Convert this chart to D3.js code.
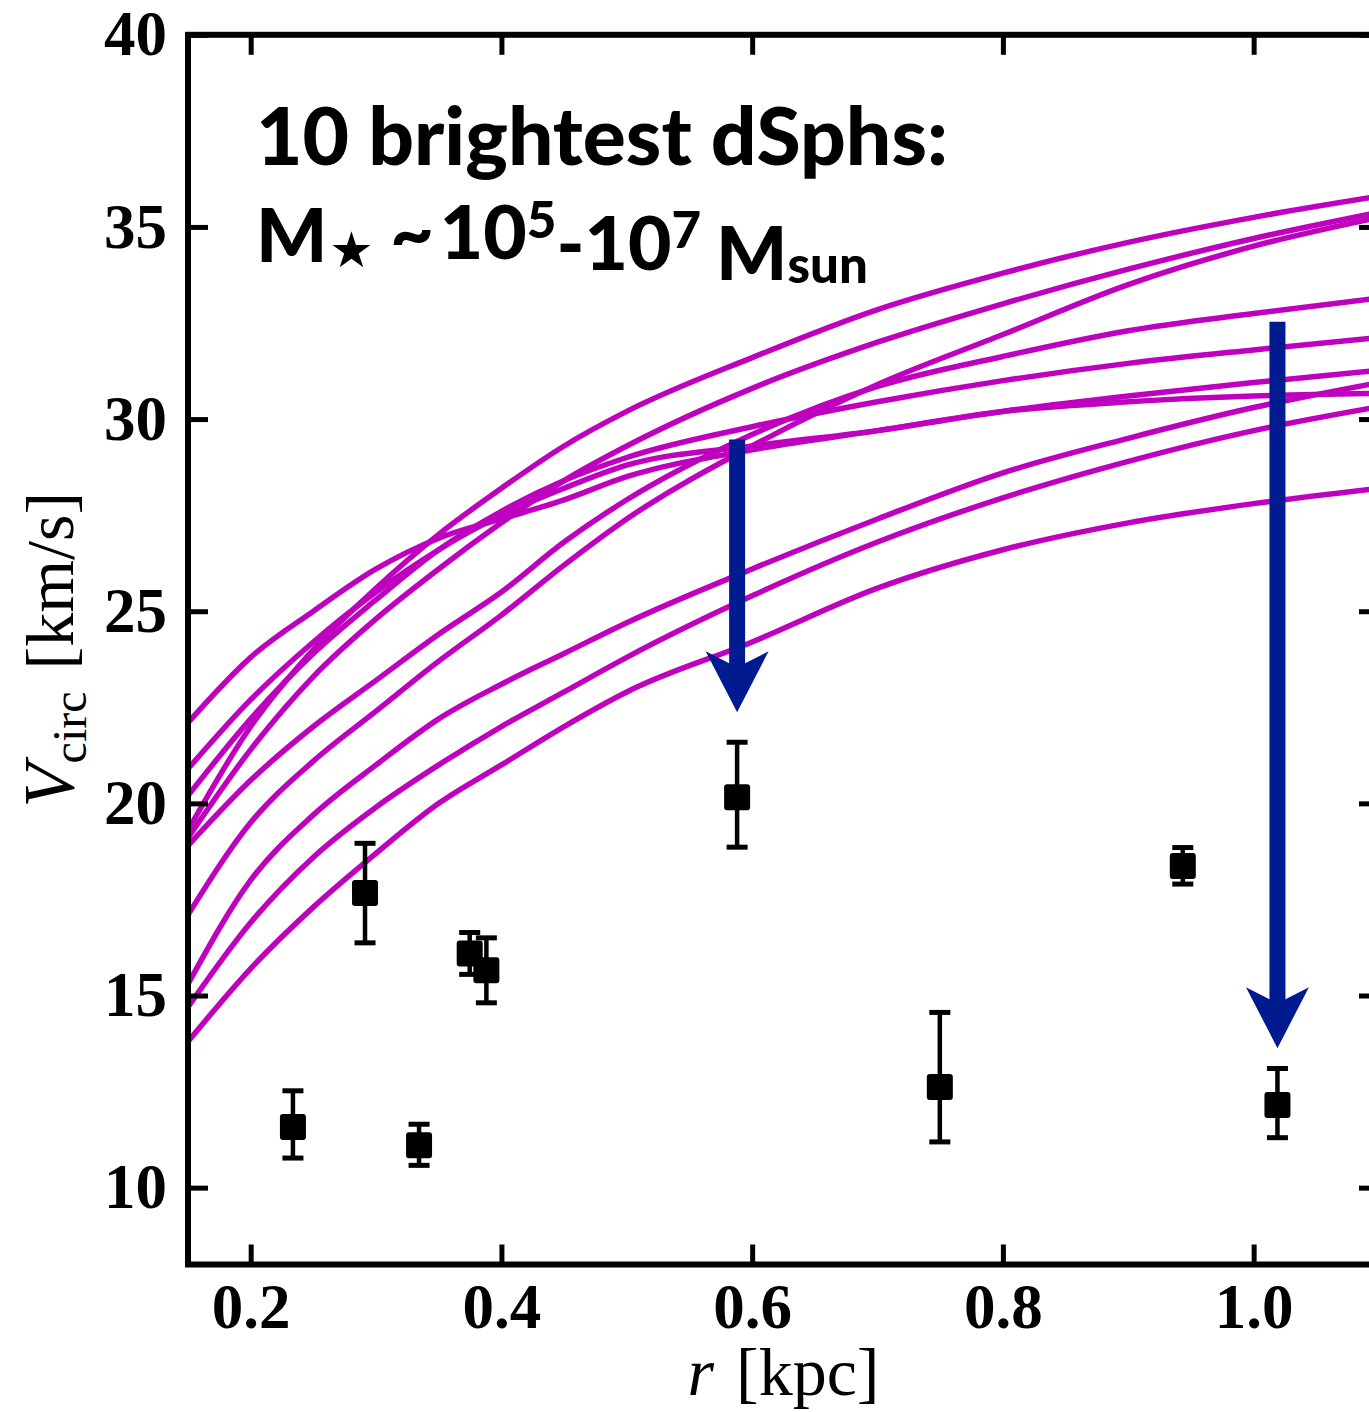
<!DOCTYPE html>
<html>
<head>
<meta charset="utf-8">
<script src="https://cdn.jsdelivr.net/npm/d3@7"></script>
<style>
  body { margin: 0; background: #ffffff; }
  svg { display: block; }
</style>
</head>
<body>
<svg id="chart" width="1369" height="1412"></svg>
<script>
// Radii (kpc) at which each simulated rotation curve is sampled
const radii = [0.15, 0.2, 0.25, 0.3, 0.35, 0.4, 0.45, 0.5, 0.6, 0.7, 0.8, 0.9, 1.0, 1.1];

// Circular velocity curves (km/s) of the ten most massive subhaloes
const haloA = [19.3, 22.0, 24.0, 25.6, 27.0, 28.2, 29.3, 30.2, 31.6, 32.85, 33.8, 34.6, 35.25, 35.8];
const haloB = [19.1, 21.4, 23.3, 24.8, 26.1, 27.3, 28.4, 29.3, 30.8, 32.0, 33.0, 33.9, 34.7, 35.38];
const haloC = [17.1, 19.5, 21.1, 22.4, 23.7, 24.9, 26.2, 27.4, 29.3, 30.9, 32.2, 33.5, 34.5, 35.25];
const haloD = [18.9, 20.6, 22.0, 23.2, 24.4, 25.5, 26.8, 27.9, 29.6, 30.85, 31.63, 32.3, 32.75, 33.15];
const haloE = [20.2, 22.2, 23.9, 25.3, 26.6, 27.6, 28.4, 29.0, 29.8, 30.45, 31.0, 31.45, 31.8, 32.12];
const haloF = [20.9, 22.7, 24.2, 25.5, 26.6, 27.5, 28.2, 28.8, 29.3, 29.7, 30.2, 30.6, 30.95, 31.27];
const haloG = [15.3, 18.0, 19.7, 21.0, 22.2, 23.1, 23.9, 24.7, 26.1, 27.4, 28.6, 29.5, 30.3, 30.95];
const haloH = [22.1, 23.8, 25.0, 26.1, 26.9, 27.4, 27.9, 28.5, 29.2, 29.7, 30.2, 30.45, 30.6, 30.67];
const haloI = [14.7, 16.9, 18.6, 19.9, 21.0, 22.0, 22.9, 23.8, 25.4, 26.8, 27.95, 28.9, 29.7, 30.32];
const haloJ = [13.8, 15.7, 17.3, 18.7, 20.0, 21.0, 22.0, 22.9, 24.2, 25.6, 26.6, 27.3, 27.8, 28.2];
const haloCurves = [haloA, haloB, haloC, haloD, haloE, haloF, haloG, haloH, haloI, haloJ];

// Measured dwarf spheroidals: half-light radius, V_circ and its error range
const dsphRadius = [0.2337, 0.2912, 0.3343, 0.3747, 0.388, 0.588, 0.7497, 0.9435, 1.019];
const dsphVcirc  = [11.58, 17.67, 11.10, 16.09, 15.66, 20.16, 12.62, 18.37, 12.15];
const dsphUpper  = [12.52, 18.96, 11.65, 16.64, 16.50, 21.59, 14.56, 18.85, 13.10];
const dsphLower  = [10.77, 16.37, 10.58, 15.55, 14.81, 18.86, 11.19, 17.90, 11.30];

// Arrows from a halo curve down to the observed value
const arrowRadius = [0.588, 1.019];
const arrowFrom   = [29.47, 32.53];
const arrowTo     = [22.37, 13.63];

// Axis ticks
const xTicks = [0.2, 0.4, 0.6, 0.8, 1.0];
const xTickLabels = ["0.2", "0.4", "0.6", "0.8", "1.0"];
const yTicks = [10, 15, 20, 25, 30, 35, 40];
const yTickLabels = ["10", "15", "20", "25", "30", "35", "40"];

const svg = d3.select("#chart");
svg.append("rect").attr("width", 1369).attr("height", 1412).attr("fill", "#ffffff");

const x = d3.scaleLinear().domain([0.15, 1.1]).range([188, 1379]);
const y = d3.scaleLinear().domain([8, 40]).range([1264.5, 34.8]);

const MAGENTA = "#bf00bf";
const NAVY = "#001b8f";

svg.append("defs").append("clipPath").attr("id", "plotArea")
  .append("rect")
  .attr("x", x(0.15)).attr("y", y(40))
  .attr("width", x(1.1) - x(0.15)).attr("height", y(8) - y(40));

const plot = svg.append("g").attr("clip-path", "url(#plotArea)");

// Rotation curves
const line = d3.line()
  .x((d, i) => x(radii[i]))
  .y(d => y(d))
  .curve(d3.curveMonotoneX);

plot.selectAll("path.halo")
  .data(haloCurves)
  .join("path")
  .attr("class", "halo")
  .attr("d", line)
  .attr("fill", "none")
  .attr("stroke", MAGENTA)
  .attr("stroke-width", 5.5)
  .attr("stroke-linejoin", "round")
  .attr("stroke-linecap", "round");

// Arrows
const shaftHalf = 8, headHalf = 31.5, headLen = 61, barbBack = 49;
plot.selectAll("path.arrow")
  .data(arrowRadius.map((r, i) => ({ r, from: arrowFrom[i], to: arrowTo[i] })))
  .join("path")
  .attr("class", "arrow")
  .attr("fill", NAVY)
  .attr("stroke", "none")
  .attr("d", d => {
    const cx = x(d.r), top = y(d.from), tip = y(d.to);
    const p = d3.path();
    p.moveTo(cx - shaftHalf, top);
    p.lineTo(cx + shaftHalf, top);
    p.lineTo(cx + shaftHalf, tip - barbBack);
    p.lineTo(cx + headHalf, tip - headLen);
    p.lineTo(cx, tip);
    p.lineTo(cx - headHalf, tip - headLen);
    p.lineTo(cx - shaftHalf, tip - barbBack);
    p.closePath();
    return p.toString();
  });

// Observed points with error bars
const obs = dsphRadius.map((r, i) => ({ r, v: dsphVcirc[i], hi: dsphUpper[i], lo: dsphLower[i] }));
const pts = svg.append("g").selectAll("g.obs").data(obs).join("g").attr("class", "obs");
pts.append("line")
  .attr("x1", d => x(d.r)).attr("x2", d => x(d.r))
  .attr("y1", d => y(d.hi)).attr("y2", d => y(d.lo))
  .attr("stroke", "#000").attr("stroke-width", 4.5);
pts.selectAll("line.cap")
  .data(d => [{ r: d.r, v: d.hi }, { r: d.r, v: d.lo }])
  .join("line")
  .attr("class", "cap")
  .attr("x1", d => x(d.r) - 10.5).attr("x2", d => x(d.r) + 10.5)
  .attr("y1", d => y(d.v)).attr("y2", d => y(d.v))
  .attr("stroke", "#000").attr("stroke-width", 5);
pts.append("rect")
  .attr("x", d => x(d.r) - 13).attr("y", d => y(d.v) - 13)
  .attr("width", 26).attr("height", 26)
  .attr("rx", 3).attr("ry", 3)
  .attr("fill", "#000");

// Axes: ticks point inwards on all four sides
const tickFont = "'Liberation Serif', 'Times New Roman', serif";
function styleAxis(g) {
  g.select(".domain").remove();
  g.selectAll(".tick line").attr("stroke", "#000").attr("stroke-width", 5);
  g.selectAll(".tick text")
    .attr("fill", "#000")
    .style("font-family", tickFont)
    .style("font-weight", "bold")
    .style("font-size", "63px");
}

svg.append("g")
  .attr("transform", `translate(${x(0.15)},0)`)
  .call(d3.axisLeft(y).tickValues(yTicks).tickFormat((d, i) => yTickLabels[i]).tickSize(-20).tickPadding(21))
  .call(styleAxis);

svg.append("g")
  .attr("transform", `translate(0,${y(8)})`)
  .call(d3.axisBottom(x).tickValues(xTicks).tickFormat((d, i) => xTickLabels[i]).tickSize(-20).tickPadding(19))
  .call(styleAxis);

svg.append("g")
  .attr("transform", `translate(0,${y(40)})`)
  .call(d3.axisTop(x).tickValues(xTicks).tickFormat("").tickSize(-20))
  .call(styleAxis);

svg.append("g")
  .attr("transform", `translate(${x(1.1)},0)`)
  .call(d3.axisRight(y).tickValues(yTicks).tickFormat("").tickSize(-20))
  .call(styleAxis);

// Frame
svg.append("rect")
  .attr("x", x(0.15)).attr("y", y(40))
  .attr("width", x(1.1) - x(0.15)).attr("height", y(8) - y(40))
  .attr("fill", "none").attr("stroke", "#000").attr("stroke-width", 6);

// Axis titles
const titleFont = "'Liberation Serif', 'Times New Roman', serif";
const xTitle = svg.append("text")
  .attr("x", (x(0.15) + x(1.1)) / 2)
  .attr("y", 1395)
  .attr("text-anchor", "middle")
  .style("font-family", titleFont)
  .style("font-size", "68px")
  .attr("fill", "#000");
xTitle.append("tspan").style("font-style", "italic").text("r");
xTitle.append("tspan").attr("dx", 22).text("[kpc]");

const yTitle = svg.append("text")
  .attr("transform", `translate(73,${(y(8) + y(40)) / 2}) rotate(-90)`)
  .attr("text-anchor", "middle")
  .style("font-family", titleFont)
  .style("font-size", "68px")
  .attr("fill", "#000");
yTitle.append("tspan").style("font-style", "italic").style("font-size", "72px").text("V");
yTitle.append("tspan").attr("dy", 13).style("font-size", "48px").text("circ");
yTitle.append("tspan").attr("dy", -13).attr("dx", 22).text("[km/s]");

// Annotation
const noteFont = "Lato, 'Open Sans', 'DejaVu Sans', sans-serif";
const note1 = svg.append("text")
  .attr("x", 256).attr("y", 165)
  .style("font-family", noteFont)
  .style("font-weight", 900)
  .attr("font-size", 66)
  .attr("fill", "#000")
  .text("10 brightest dSphs:");

const note2 = svg.append("text")
  .attr("x", 256).attr("y", 262)
  .style("font-family", noteFont)
  .style("font-weight", 900)
  .attr("font-size", 66)
  .attr("fill", "#000");
note2.append("tspan").text("M");
note2.append("tspan").attr("dy", "0.1em").attr("dx", "0.04em").style("font-size", "0.66em")
  .style("font-family", "'DejaVu Sans', sans-serif").text("\u2605");
note2.append("tspan").attr("dy", "-0.1em").attr("dx", "0.22em").text("~");
note2.append("tspan").attr("dx", "0.08em").text("10");
note2.append("tspan").attr("dy", "-0.42em").style("font-size", "0.68em").text("5");
note2.append("tspan").attr("dy", "0.42em").text("-10");
note2.append("tspan").attr("dy", "-0.42em").style("font-size", "0.68em").text("7");
note2.append("tspan").attr("dy", "0.42em").attr("dx", "0.2em").text("M");
note2.append("tspan").attr("dy", "0.06em").style("font-size", "0.68em").text("sun");

function fitWidth(sel, target) {
  const w = sel.node().getBBox().width;
  const fs = +sel.attr("font-size");
  sel.attr("font-size", fs * target / w);
}
fitWidth(note1, 692);
fitWidth(note2, 612);
</script>
</body>
</html>
